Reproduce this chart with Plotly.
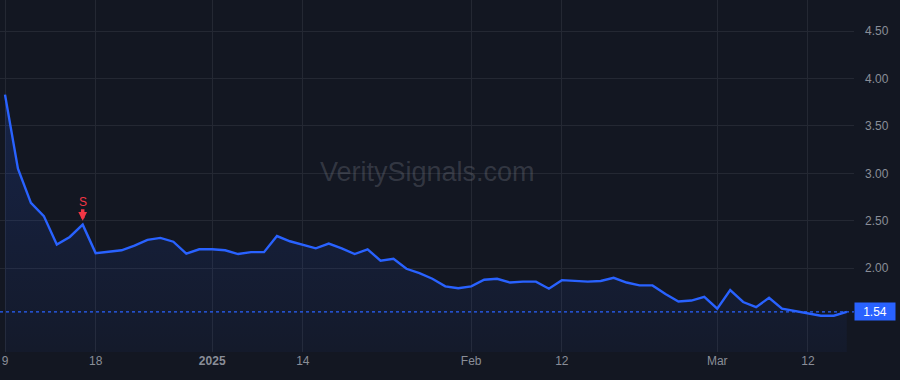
import plotly.graph_objects as go

# ---- data -------------------------------------------------------------
dates = [
    "2024-12-09", "2024-12-10", "2024-12-11", "2024-12-12", "2024-12-13",
    "2024-12-16", "2024-12-17", "2024-12-18", "2024-12-19", "2024-12-20",
    "2024-12-23", "2024-12-24", "2024-12-26", "2024-12-27", "2024-12-30",
    "2024-12-31",
    "2025-01-02", "2025-01-03", "2025-01-06", "2025-01-07", "2025-01-08",
    "2025-01-10", "2025-01-13", "2025-01-14", "2025-01-15", "2025-01-16",
    "2025-01-17", "2025-01-21", "2025-01-22", "2025-01-23", "2025-01-24",
    "2025-01-27", "2025-01-28", "2025-01-29", "2025-01-30", "2025-01-31",
    "2025-02-03", "2025-02-04", "2025-02-05", "2025-02-06", "2025-02-07",
    "2025-02-10", "2025-02-11", "2025-02-12", "2025-02-13", "2025-02-14",
    "2025-02-18", "2025-02-19", "2025-02-20", "2025-02-21", "2025-02-24",
    "2025-02-25", "2025-02-26", "2025-02-27", "2025-02-28",
    "2025-03-03", "2025-03-04", "2025-03-05", "2025-03-06", "2025-03-07",
    "2025-03-10", "2025-03-11", "2025-03-12", "2025-03-13", "2025-03-14",
    "2025-03-17",
]

prices = [
    3.83, 3.05, 2.69, 2.55, 2.25, 2.33, 2.46, 2.16, 2.175, 2.19,
    2.24, 2.30, 2.32, 2.28, 2.155, 2.20, 2.20, 2.19, 2.15, 2.17,
    2.17, 2.34, 2.285, 2.245, 2.21, 2.26, 2.21, 2.15, 2.20, 2.08,
    2.10, 1.995, 1.95, 1.89, 1.81, 1.79, 1.81, 1.88, 1.89, 1.85,
    1.86, 1.86, 1.785, 1.875, 1.866, 1.86, 1.866, 1.90, 1.85, 1.82,
    1.82, 1.73, 1.65, 1.66, 1.70, 1.575, 1.77, 1.645, 1.59, 1.69,
    1.575, 1.55, 1.52, 1.50, 1.50, 1.54,
]

tick_dates = ["2024-12-09", "2024-12-18", "2025-01-02", "2025-01-14",
              "2025-02-03", "2025-02-12", "2025-03-03", "2025-03-12"]
tick_labels = ["9", "18", "<b>2025</b>", "14", "Feb", "12", "Mar", "12"]

y_ticks = [2.0, 2.5, 3.0, 3.5, 4.0, 4.5]

signal_date = "2024-12-17"
signal_value = 2.46
signal_text = "S"

last_value = prices[-1]

# ---- style ------------------------------------------------------------
BG = "#131722"
GRID = "#242833"
LINE = "#2962FF"
RED = "#f23645"
TXT = "#8a8e98"
FONT = "Liberation Sans, Arial, sans-serif"

fig = go.Figure()

fig.add_trace(go.Scatter(
    x=dates, y=prices, mode="lines",
    line=dict(color=LINE, width=2.4),
    fill="tozeroy",
    fillgradient=dict(
        type="vertical",
        colorscale=[[0, "rgba(41,98,255,0.04)"], [1, "rgba(41,98,255,0.17)"]],
        start=1.12, stop=3.9,
    ),
    hoverinfo="skip", showlegend=False,
))

# last price dotted line
fig.add_shape(type="line", xref="paper", x0=0, x1=1, yref="y",
              y0=last_value, y1=last_value,
              line=dict(color=LINE, width=1.2, dash="dot"))

# last price label
fig.add_annotation(xref="paper", x=1, xanchor="left", yref="y", y=last_value,
                   text=f"{last_value:.2f}", showarrow=False,
                   font=dict(color="#ffffff", size=12, family=FONT),
                   bgcolor=LINE, width=38, height=15, borderpad=1, align="center")

# signal marker: arrow + letter
fig.add_annotation(x=signal_date, y=signal_value, text="",
                   showarrow=True, ax=0, ay=-17, arrowhead=2, arrowsize=0.5,
                   arrowwidth=3.5, arrowcolor=RED, standoff=4)
fig.add_annotation(x=signal_date, y=signal_value, text=signal_text,
                   showarrow=False, yshift=23,
                   font=dict(color=RED, size=12, family=FONT))

# watermark
fig.add_annotation(xref="paper", yref="paper", x=0.5, y=0.51,
                   text="VeritySignals.com", showarrow=False,
                   font=dict(color="rgba(120,124,136,0.32)", size=27, family=FONT))

fig.update_layout(
    width=900, height=380,
    margin=dict(l=0, r=46, t=0, b=28),
    paper_bgcolor=BG, plot_bgcolor=BG,
    font=dict(family=FONT, color=TXT, size=12),
    xaxis=dict(
        type="category", range=[-0.386, 65.56],
        tickmode="array", tickvals=tick_dates, ticktext=tick_labels,
        showgrid=True, gridcolor=GRID, gridwidth=1,
        zeroline=False, showline=False, ticks="",
        tickfont=dict(color=TXT, size=12, family=FONT),
    ),
    yaxis=dict(
        side="right", range=[1.118, 4.827],
        tickmode="array", tickvals=y_ticks,
        tickformat=".2f",
        showgrid=True, gridcolor=GRID, gridwidth=1,
        zeroline=False, showline=False, ticks="",
        ticklabelstandoff=10,
        tickfont=dict(color=TXT, size=12, family=FONT),
    ),
)

fig.write_html("out.html")
